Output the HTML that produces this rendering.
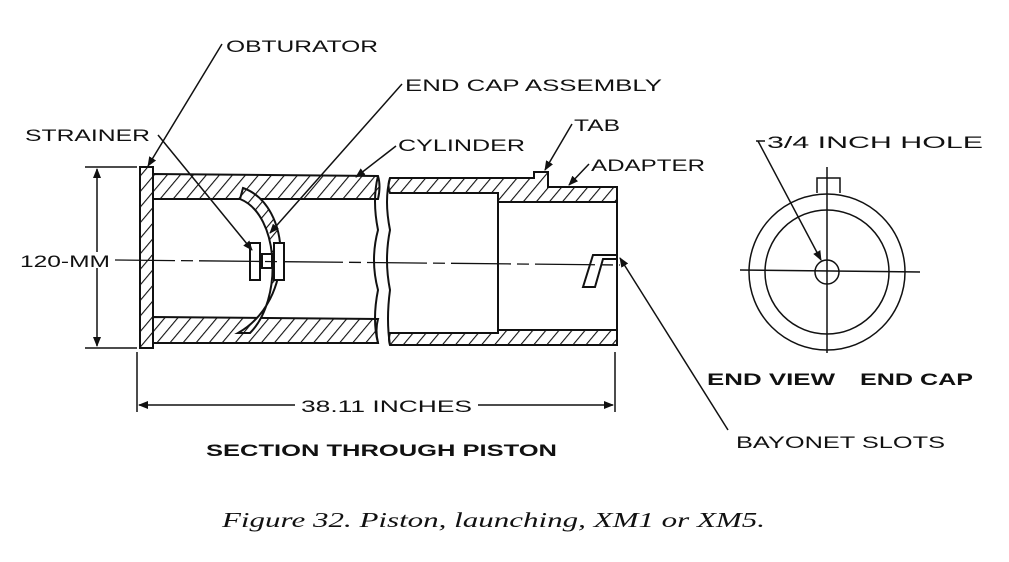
<!DOCTYPE html>
<html><head><style>
body{margin:0;background:#fff;}
svg{display:block}
text{font-family:"Liberation Sans",sans-serif;fill:#111}
text.cap{font-family:"Liberation Serif",serif;font-style:italic}
</style></head><body>
<svg width="1009" height="562" viewBox="0 0 1009 562" xmlns="http://www.w3.org/2000/svg">
<defs>
<pattern id="h" patternUnits="userSpaceOnUse" width="10" height="10" patternTransform="rotate(40)">
<rect width="10" height="10" fill="#fff"/><line x1="0" y1="0" x2="0" y2="10" stroke="#111" stroke-width="2.2"/>
</pattern>
<marker id="a" markerWidth="10" markerHeight="8" refX="9" refY="4" orient="auto" markerUnits="userSpaceOnUse"><path d="M0,0 L10,4 L0,8z" fill="#111"/></marker>
</defs>
<g stroke="#111" stroke-width="2" fill="url(#h)">
<rect x="140" y="167" width="13" height="181"/>
<path d="M153,174 L378,176 Q381,186 378,199 L153,199z"/>
<path d="M153,317 L378,319 Q375,330 378,343 L153,343z"/>
<path d="M390,178 L534,178 L534,172 L548,172 L548,187 L617,187 L617,202 L498,202 L498,193 L390,193 Q387,186 390,178z"/>
<path d="M390,333 L498,333 L498,330 L617,330 L617,345 L390,345 Q388,339 390,333z"/>
<path d="M243,188 C292,205 296,300 238,333 L250,333 C283,300 280,215 240,199z"/>
</g>
<g stroke="#111" stroke-width="2" fill="none">
<path d="M378,176 Q372,200 378,230 Q370,260 378,290 Q372,320 378,343"/>
<path d="M390,178 Q384,200 390,230 Q384,260 390,290 Q386,320 390,345"/>
<line x1="498" y1="193" x2="498" y2="333"/>
<line x1="617" y1="202" x2="617" y2="330"/>
<rect x="250" y="243" width="10" height="37" fill="#fff"/>
<rect x="274" y="243" width="10" height="37" fill="#fff"/>
<rect x="262" y="254" width="10" height="14" fill="#fff"/>
<path d="M583,287 L593,255 L617,255 L617,259 L603,259 L595,287z" fill="#fff"/>
</g>
<line x1="115" y1="260" x2="620" y2="265" stroke="#111" stroke-width="1.3" stroke-dasharray="60,6,12,6"/>
<g stroke="#111" stroke-width="1.5" fill="none">
<line x1="85" y1="167" x2="137" y2="167"/><line x1="85" y1="348" x2="137" y2="348"/>
<line x1="97" y1="252" x2="97" y2="169" marker-end="url(#a)"/>
<line x1="97" y1="268" x2="97" y2="346" marker-end="url(#a)"/>
<line x1="137" y1="352" x2="137" y2="412"/><line x1="615" y1="352" x2="615" y2="412"/>
<line x1="295" y1="405" x2="139" y2="405" marker-end="url(#a)"/>
<line x1="478" y1="405" x2="613" y2="405" marker-end="url(#a)"/>
<line x1="222" y1="44" x2="148" y2="166" marker-end="url(#a)"/>
<line x1="158" y1="135" x2="252" y2="250" marker-end="url(#a)"/>
<line x1="402" y1="84" x2="270" y2="233" marker-end="url(#a)"/>
<line x1="396" y1="146" x2="356" y2="177" marker-end="url(#a)"/>
<line x1="572" y1="124" x2="545" y2="170" marker-end="url(#a)"/>
<line x1="589" y1="164" x2="569" y2="185" marker-end="url(#a)"/>
<line x1="728" y1="430" x2="620" y2="258" marker-end="url(#a)"/>
<line x1="756" y1="141" x2="765" y2="141"/>
<line x1="758" y1="141" x2="821" y2="260" marker-end="url(#a)"/>
<path d="M817,193 L817,178 L840,178 L840,193"/>
<circle cx="827" cy="272" r="78"/>
<circle cx="827" cy="272" r="62"/>
<circle cx="827" cy="272" r="12"/>
<line x1="827" y1="167" x2="827" y2="353"/>
<line x1="740" y1="270" x2="920" y2="272"/>
</g>
<g font-size="17">
<text x="226" y="52" textLength="152" lengthAdjust="spacingAndGlyphs">OBTURATOR</text>
<text x="405" y="91" textLength="257" lengthAdjust="spacingAndGlyphs">END CAP ASSEMBLY</text>
<text x="25" y="141" textLength="125" lengthAdjust="spacingAndGlyphs">STRAINER</text>
<text x="398" y="151" textLength="127" lengthAdjust="spacingAndGlyphs">CYLINDER</text>
<text x="574" y="131" textLength="46" lengthAdjust="spacingAndGlyphs">TAB</text>
<text x="591" y="171" textLength="114" lengthAdjust="spacingAndGlyphs">ADAPTER</text>
<text x="20" y="267" textLength="90" lengthAdjust="spacingAndGlyphs">120-MM</text>
<text x="301" y="412" textLength="171" lengthAdjust="spacingAndGlyphs">38.11 INCHES</text>
<text x="767" y="148" textLength="216" lengthAdjust="spacingAndGlyphs">3/4 INCH HOLE</text>
<text x="736" y="448" textLength="209" lengthAdjust="spacingAndGlyphs">BAYONET SLOTS</text>
</g>
<g font-size="17" font-weight="bold">
<text x="206" y="456" textLength="351" lengthAdjust="spacingAndGlyphs">SECTION THROUGH PISTON</text>
<text x="707" y="385" textLength="128" lengthAdjust="spacingAndGlyphs">END VIEW</text>
<text x="860" y="385" textLength="113" lengthAdjust="spacingAndGlyphs">END CAP</text>
</g>
<text class="cap" x="222" y="527" font-size="21" textLength="543" lengthAdjust="spacingAndGlyphs">Figure 32.   Piston, launching, XM1 or XM5.</text>
</svg>
</body></html>
